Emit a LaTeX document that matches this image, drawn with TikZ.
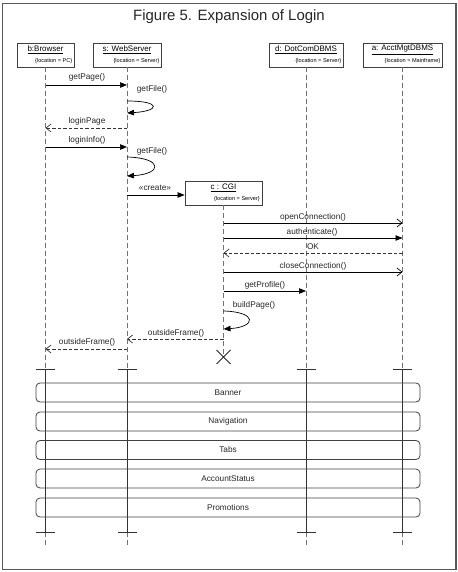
\documentclass[tikz,border=0pt]{standalone}
\usepackage{fontspec}
\setmainfont{Liberation Sans}
\usetikzlibrary{arrows.meta}
\begin{document}
\begin{tikzpicture}[x=1bp,y=-1bp,
  headbox/.style={draw=black!75, line width=0.8bp, inner sep=0, anchor=center},
  namelbl/.style={font=\fontsize{8}{9}\selectfont, inner sep=0.5bp},
  loclbl/.style={font=\fontsize{5.6}{6}\selectfont, inner sep=0, anchor=east},
  lbl/.style={font=\fontsize{8.3}{9}\selectfont, inner sep=0, text=black!85},
  lifeline/.style={draw=black!55, dash pattern=on 5bp off 3bp, line width=0.8bp},
  solidline/.style={draw=black!80, line width=0.8bp},
  tick/.style={draw=black!80, line width=0.8bp},
  msg/.style={draw=black, line width=0.7bp, -{Triangle[length=7bp,width=5.5bp]}},
  omsg/.style={draw=black, line width=0.7bp, -{Straight Barb[length=5bp,width=8bp]}},
  rmsg/.style={draw=black!80, line width=0.7bp, dash pattern=on 3.5bp off 2bp, -{Straight Barb[length=5bp,width=8bp]}},
  bar/.style={draw=black!75, line width=0.8bp, rounded corners=4bp, minimum width=384bp, minimum height=19bp, inner sep=0, font=\fontsize{8.3}{9}\selectfont, text=black!85}
]
\useasboundingbox (0,0) rectangle (458,572);
\draw[black!65, line width=1.6bp] (2.5,3.5) rectangle (456,569.5);
\node[font=\fontsize{15}{17}\selectfont, text=black!85] (title) at (229,17) {Figure 5. Expansion of Login};

% heads
\node[headbox, minimum width=57bp, minimum height=24bp] (hb) at (45.5,55) {};
\node[headbox, minimum width=68bp, minimum height=24bp] (hs) at (127,55) {};
\node[headbox, minimum width=74bp, minimum height=24bp] (hd) at (306,55) {};
\node[headbox, minimum width=79bp, minimum height=24bp] (ha) at (402.5,55) {};
\node[namelbl] (nb) at (45.5,50) {\underline{b:Browser}};
\node[namelbl] (ns) at (127,50) {\underline{s: WebServer}};
\node[namelbl] (nd) at (306,50) {\underline{d: DotComDBMS}};
\node[namelbl] (na) at (402.5,50) {\underline{a: AcctMgtDBMS}};
\node[loclbl] (lb) at (72.5,61) {\{location = PC\}};
\node[loclbl] (ls) at (159.5,61) {\{location = Server\}};
\node[loclbl] (ld) at (341.5,61) {\{location = Server\}};
\node[loclbl] (la) at (440.5,61) {\{location = Mainframe\}};

% CGI head
\node[headbox, minimum width=77bp, minimum height=24bp] (hc) at (223.5,193) {};
\node[namelbl] (nc) at (223.5,188) {\underline{c : CGI}};
\node[loclbl] (lc) at (260,199) {\{location = Server\}};

% lifelines
\foreach \n/\x in {b/45.5,s/127,d/306,a/402.5}{
  \coordinate (t1\n) at (\x,369);
  \coordinate (t2\n) at (\x,532);
  \coordinate (e\n) at (\x,546);
  \draw[lifeline] (h\n.south) -- (t1\n);
  \draw[solidline] (t1\n) -- (t2\n);
  \draw[lifeline] (t2\n) -- (e\n);
  \draw[tick] ([xshift=-9.5bp]t1\n) -- ([xshift=9.5bp]t1\n);
  \draw[tick] ([xshift=-9.5bp]t2\n) -- ([xshift=9.5bp]t2\n);
}
\coordinate (xc) at (223.5,357);
\draw[lifeline] (hc.south) -- (xc);
\draw[line width=0.8bp, black!85] ([shift={(-7,-7)}]xc) -- ([shift={(7,7)}]xc) ([shift={(-7,7)}]xc) -- ([shift={(7,-7)}]xc);

% messages
\draw[msg] (hb |- 0,85) -- (hs |- 0,85);
\node[lbl] (m1) at (87,77.5) {getPage()};
\draw[msg] (hs |- 0,101) .. controls (162,101) and (160,111) .. (hs |- 0,113);
\node[lbl] (m2) at (152,89.5) {getFile()};
\draw[rmsg] (hs |- 0,128) -- (hb |- 0,128);
\node[lbl] (m3) at (87,121) {loginPage};
\draw[msg] (hb |- 0,147) -- (hs |- 0,147);
\node[lbl] (m4) at (87,140.5) {loginInfo()};
\draw[msg] (hs |- 0,157) .. controls (164,158) and (162,174) .. (hs |- 0,176);
\node[lbl] (m5) at (152,151) {getFile()};
\draw[msg] (hs |- 0,195) -- (hc.west |- 0,195);
\node[lbl] (m6) at (155,188) {«create»};

\draw[omsg] (hc |- 0,223) -- (ha |- 0,223);
\node[lbl] (m7) at (313,217) {openConnection()};
\draw[msg] (hc |- 0,238) -- (ha |- 0,238);
\node[lbl] (m8) at (312,232) {authenticate()};
\draw[rmsg] (ha |- 0,253) -- (hc |- 0,253);
\node[lbl] (m9) at (313,246.5) {OK};
\draw[omsg] (hc |- 0,272) -- (ha |- 0,272);
\node[lbl] (m10) at (313,266) {closeConnection()};
\draw[msg] (hc |- 0,291) -- (hd |- 0,291);
\node[lbl] (m11) at (265,285) {getProfile()};
\draw[msg] (hc |- 0,311) .. controls (258,312) and (256,327) .. (hc |- 0,329);
\node[lbl] (m12) at (254,305) {buildPage()};
\draw[rmsg] (hc |- 0,339) -- (hs |- 0,339);
\node[lbl] (m13) at (176,333) {outsideFrame()};
\draw[rmsg] (hs |- 0,349) -- (hb |- 0,349);
\node[lbl] (m14) at (87,342.5) {outsideFrame()};

% bars
\node[bar] (b1) at (228,392.5) {Banner};
\node[bar] (b2) at (228,421.5) {Navigation};
\node[bar] (b3) at (228,450) {Tabs};
\node[bar] (b4) at (228,478.5) {AccountStatus};
\node[bar] (b5) at (228,507.5) {Promotions};
\end{tikzpicture}
\end{document}
